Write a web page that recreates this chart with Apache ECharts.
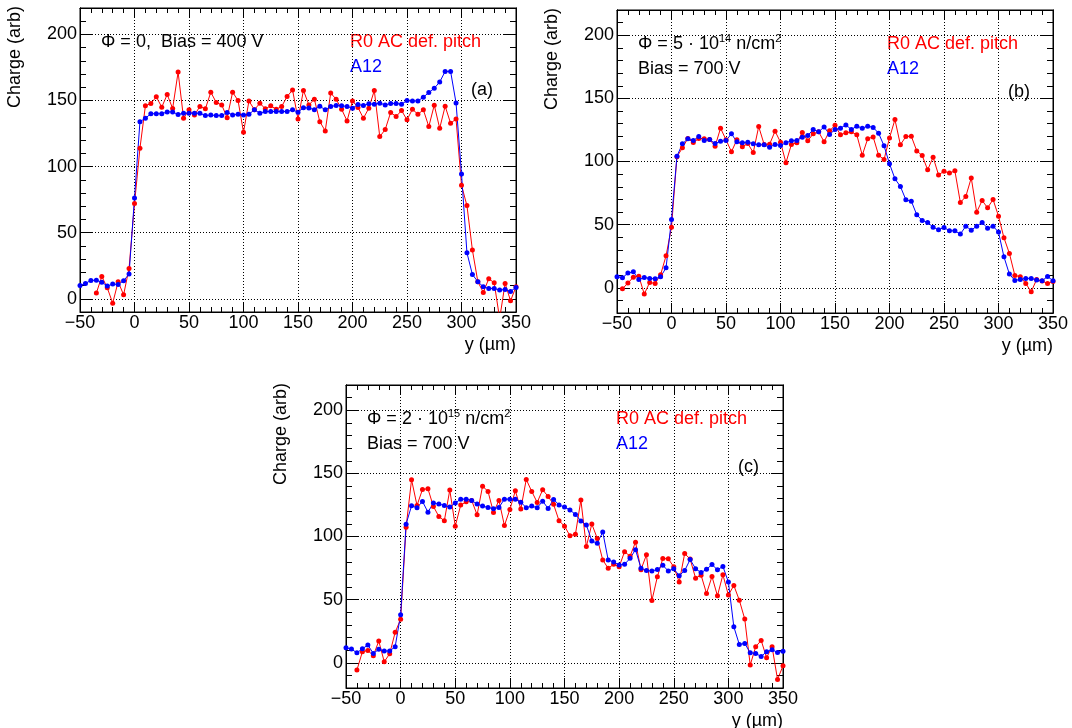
<!DOCTYPE html>
<html>
<head>
<meta charset="utf-8">
<script src="https://cdn.jsdelivr.net/npm/echarts@6/dist/echarts.min.js"></script>
<style>
html, body { margin: 0; padding: 0; background: #fff; }
#chart { width: 1072px; height: 728px; }
</style>
</head>
<body>
<div id="chart"></div>
<script>
// strip position y (um), one point every 5 um
const positions = [
    -50, -45, -40, -35, -30, -25, -20, -15, -10, -5,
    0, 5, 10, 15, 20, 25, 30, 35, 40, 45,
    50, 55, 60, 65, 70, 75, 80, 85, 90, 95,
    100, 105, 110, 115, 120, 125, 130, 135, 140, 145,
    150, 155, 160, 165, 170, 175, 180, 185, 190, 195,
    200, 205, 210, 215, 220, 225, 230, 235, 240, 245,
    250, 255, 260, 265, 270, 275, 280, 285, 290, 295,
    300, 305, 310, 315, 320, 325, 330, 335, 340, 345,
    350
];
const xTicks = [-50, 0, 50, 100, 150, 200, 250, 300, 350];
const yTicks = [0, 50, 100, 150, 200];

// (a) Phi = 0, 400 V
const a_R0 = [
    null, null, null, 4.3, 16.9, 8.3, -3.3, 12.9, 3, 23,
    72, 113.9, 146, 147.7, 152.8, 145, 154.5, 144, 171.5, 136.6,
    143, 139, 145.5, 143.7, 156.3, 148.5, 146.7, 137, 156.3, 150,
    126, 149.7, 143, 148, 143.7, 146, 143.4, 145.5, 153, 158,
    136, 157.6, 146.7, 151, 134, 127, 155.6, 151, 143.4, 134.6,
    149.7, 144.7, 136.6, 144.2, 157.6, 122.7, 128, 141, 137.9, 142.4,
    135.4, 143.4, 139.6, 143, 130.3, 146.5, 129, 145.7, 132.8, 136,
    85.9, 70.5, 36.9, 12.9, 4.8, 15.2, 12.1, -15, 11.6, -1.5,
    9.1
];
const a_A12 = [
    10, 11.6, 13.9, 14, 12.6, 9.6, 11.1, 10.9, 13.6, 18.7,
    76.3, 134, 136.6, 140, 140, 140, 141.4, 141.4, 139.4, 140.4,
    140.4, 140.4, 140.4, 138.6, 139, 138.6, 138.6, 141, 139, 139.6,
    139, 139.6, 143, 140.4, 141.7, 141.7, 141.7, 141.7, 141.7, 143,
    141.2, 144.5, 144.4, 143, 145.7, 143, 145.5, 146.2, 146, 145.5,
    144.2, 147, 146.2, 147.5, 147.2, 148, 146.7, 147.7, 147.7, 147.2,
    150, 149.7, 149.7, 152.5, 156, 159.3, 164, 172, 172, 148.2,
    94.4, 34.8, 18.4, 12.9, 9.1, 7.8, 7.8, 6.6, 7, 5.6,
    8.6
];

// (b) Phi = 5e14, 700 V
const b_R0 = [
    null, -0.8, 3.7, 8.4, 9.2, -5, 4.2, 3.4, 10.3, 25.3,
    48, 103.7, 110.8, 118.2, 115, 118.2, 118, 117.4, 112.1, 126.4,
    117.2, 107.7, 117.2, 111.6, 114.2, 107.1, 127.7, 113.5, 113.7, 124,
    115.3, 99, 113.5, 114.8, 123, 116.4, 121.9, 123.5, 115.6, 124.3,
    128.7, 121.1, 122.7, 123.5, 121.1, 105, 118, 119.5, 105, 101.6,
    118.7, 133.2, 113.2, 119.8, 120, 108.4, 104.7, 93.4, 103.4, 89.4,
    92.3, 90.8, 92.6, 67.5, 72.3, 87, 59.9, 69.1, 63.3, 69.9,
    56.7, 39.6, 27.2, 9.8, 8.7, 3.4, -3.2, 6.6, 5.3, 3.4,
    5
];
const b_A12 = [
    8.7, 7.9, 11.6, 12.7, 6.6, 8.2, 7.4, 7.1, 8.7, 15.8,
    54, 104.2, 114, 118, 116.6, 119.8, 116.6, 117.4, 114.2, 116,
    116.6, 121.9, 115.6, 114.8, 115.3, 114, 113.2, 113.2, 111.3, 113.5,
    112.7, 114.8, 116.4, 116.6, 119.3, 120.6, 125.3, 123.5, 127.4, 121.4,
    125.3, 126.4, 129, 125.3, 128, 126.4, 128, 127, 122.4, 112.4,
    98.2, 86.3, 80.2, 69.7, 68.6, 57.8, 53.3, 51.7, 48, 45.9,
    47.8, 45.1, 45.1, 42.5, 48.8, 45.6, 48.8, 51.7, 47.2, 48.8,
    44.1, 24.5, 10.8, 5.8, 6.6, 7.4, 7.4, 6.1, 5.5, 9,
    5.5
];

// (c) Phi = 2e15, 700 V
const c_R0 = [
    null, null, -5.8, 8.7, 9.8, 5.6, 17.2, 0.8, 7.1, 24.1,
    34.4, 107.4, 145, 124.6, 137.3, 137.8, 123.8, 115.9, 112.4, 136.8,
    108.2, 124.9, 127.5, 128.6, 117.2, 139.9, 135.7, 119, 128.6, 108.7,
    121.4, 136.2, 121.7, 145.2, 135.7, 127, 137, 131.7, 125.5, 112.5,
    108.2, 100.6, 101.7, 128.9, 92, 109.9, 98.5, 81.4, 74.8, 78,
    76, 88, 84.4, 95.5, 73.7, 85.5, 49.3, 68.1, 82.6, 82.3,
    76, 63.9, 86.5, 82.1, 67, 69.4, 54.9, 68.3, 53, 69.7,
    53.6, 61.2, 49.6, 34.6, -1.8, 12.7, 17.7, 4, 12.7, -13.2,
    -2.4
];
const c_A12 = [
    11.9, 10.8, 7.9, 11.1, 14, 7.4, 10.6, 9.3, 9.3, 12.7,
    38.1, 109.8, 124.3, 122.8, 127.8, 119.3, 126.5, 125.7, 124.6, 123.3,
    126.5, 129.6, 129.6, 128.6, 125.7, 124.1, 123, 122, 123, 129.6,
    129.6, 129.6, 127.2, 122.8, 124.1, 122.8, 128, 122.2, 129.4, 125,
    123.3, 121, 117.5, 112.3, 109.2, 96.4, 94.7, 103.6, 81.4, 79.8,
    77.4, 78, 82.7, 89.6, 74.8, 73, 72.7, 73.8, 77.2, 72.7,
    74.5, 69, 73, 81.7, 74.5, 71.4, 74, 77.8, 73.6, 76.3,
    63.9, 28.5, 14.5, 15.3, 7.9, 7.4, 5, 8.7, 10.3, 8.2,
    9.2
];

const FONT = '"Liberation Sans", Arial, Helvetica, sans-serif';
const RED = '#ff0000';
const BLUE = '#0000ff';

// pad layout (pixels)
const panels = [
    { rect: [80, 8, 436, 304], ymin: -10, r0: a_R0, a12: a_A12, tag: '(a)',
      line1: 'Φ = 0,  Bias = 400 V', line2: null },
    { rect: [617, 10, 436, 303], ymin: -20, r0: b_R0, a12: b_A12, tag: '(b)',
      line1: 'Φ = 5 · 10{sup|14} n/cm{sup|2}', line2: 'Bias = 700 V' },
    { rect: [346, 385, 437, 303], ymin: -20, r0: c_R0, a12: c_A12, tag: '(c)',
      line1: 'Φ = 2 · 10{sup|15} n/cm{sup|2}', line2: 'Bias = 700 V' }
];

function pairs(vals) {
    return positions.map((p, i) => [p, vals[i]]).filter(d => d[1] !== null);
}

function minusFmt(v) {
    return v < 0 ? '\u2212' + (-v) : String(v);
}

const black = { color: '#000', width: 1 };
const dotted = { color: '#000', width: 1, type: [1, 2] };
const labelStyle = { color: '#000', fontSize: 18, fontFamily: FONT };

let grids = [], xAxes = [], yAxes = [], series = [], graphics = [];

panels.forEach((p, g) => {
    const [l, t, w, h] = p.rect;
    grids.push({ left: l, top: t, width: w, height: h, show: true,
        borderColor: '#000', borderWidth: 1, outerBoundsMode: 'none', containLabel: false });

    const xBase = { type: 'value', gridIndex: g, min: -50, max: 350, interval: 50,
        axisLine: { show: true, onZero: false, lineStyle: black },
        axisTick: { show: true, inside: true, length: 10, lineStyle: black },
        minorTick: { show: true, splitNumber: 5, length: 5, lineStyle: black } };
    xAxes.push(Object.assign({}, xBase, { position: 'bottom',
        axisLabel: Object.assign({ margin: 2, formatter: minusFmt, showMinLabel: true, showMaxLabel: true }, labelStyle),
        splitLine: { show: true, lineStyle: dotted } }));
    xAxes.push(Object.assign({}, xBase, { position: 'top',
        axisLabel: { show: false }, splitLine: { show: false } }));

    const yBase = { type: 'value', gridIndex: g, min: p.ymin, max: 220, interval: 10,
        axisLine: { show: true, onZero: false, lineStyle: black },
        axisLabel: { show: false }, splitLine: { show: false } };
    const major = { show: true, inside: true, length: 12, lineStyle: black, customValues: yTicks };
    const minor = { show: true, inside: true, length: 6, lineStyle: black };
    yAxes.push(Object.assign({}, yBase, { position: 'left', axisTick: major,
        axisLabel: Object.assign({ margin: 3, customValues: yTicks }, labelStyle),
        splitLine: { show: true, lineStyle: dotted } }));
    yAxes.push(Object.assign({}, yBase, { position: 'left', axisTick: minor }));
    yAxes.push(Object.assign({}, yBase, { position: 'right', axisTick: major }));
    yAxes.push(Object.assign({}, yBase, { position: 'right', axisTick: minor }));

    [[p.r0, RED, 'R0 AC def. pitch'], [p.a12, BLUE, 'A12']].forEach(([vals, col, name]) => {
        series.push({ type: 'line', name: name, xAxisIndex: 2 * g, yAxisIndex: 4 * g,
            data: pairs(vals), symbol: 'circle', symbolSize: 5, showSymbol: true,
            itemStyle: { color: col }, lineStyle: { color: col, width: 1 },
            clip: true, silent: true });
    });

    // pad texts
    const txt = (x, y, text, fill, extra) => graphics.push(Object.assign({
        type: 'text', x: x, y: y, silent: true,
        style: { text: text, fill: fill, font: '18px ' + FONT, align: 'left', verticalAlign: 'middle',
            rich: { sup: { fontSize: 11, fontFamily: FONT, fill: fill, padding: [0, 0, 10, 0] } } }
    }, extra || {}));
    txt(l + 21, t + 34, p.line1, '#000');
    if (p.line2) txt(l + 21, t + 59, p.line2, '#000');
    txt(l + 270, t + 34, 'R0 AC def. pitch', RED);
    txt(l + 270, t + 59, 'A12', BLUE);
    txt(l + w - 45, t + 82, p.tag, '#000');
    graphics.push({ type: 'text', x: l + w, y: t + h + 33, silent: true,
        style: { text: 'y (µm)', fill: '#000', font: '18px ' + FONT, align: 'right', verticalAlign: 'middle' } });
    graphics.push({ type: 'text', x: l - 65, y: t - 2, rotation: Math.PI / 2, silent: true,
        style: { text: 'Charge (arb)', fill: '#000', font: '18px ' + FONT, align: 'right', verticalAlign: 'middle' } });
});

const chart = echarts.init(document.getElementById('chart'));
chart.setOption({
    animation: false,
    backgroundColor: '#fff',
    grid: grids,
    xAxis: xAxes,
    yAxis: yAxes,
    series: series,
    graphic: graphics
});
</script>
</body>
</html>
